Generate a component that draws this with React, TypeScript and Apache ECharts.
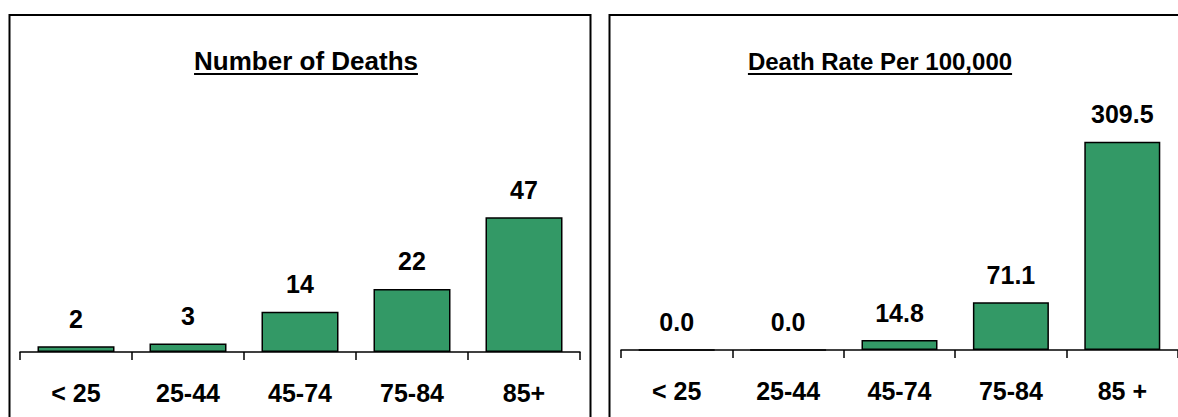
import React, { useEffect, useRef } from "react";
import * as echarts from "echarts";

const categoriesDeaths = ["< 25", "25-44", "45-74", "75-84", "85+"];
const categoriesRate = ["< 25", "25-44", "45-74", "75-84", "85 +"];
const deathCounts = [2, 3, 14, 22, 47];
const deathRates = [0.0, 0.0, 14.8, 71.1, 309.5];
const titleDeaths = "Number of Deaths";
const titleRate = "Death Rate Per 100,000";

const FONT = "'Liberation Sans', Arial, sans-serif";
const GREEN = "#339966";

function measure(text: string, size: number): number {
  const c = document.createElement("canvas").getContext("2d");
  if (!c) return text.length * size * 0.55;
  c.font = `bold ${size}px ${FONT}`;
  return c.measureText(text).width;
}

export default function App() {
  const ref = useRef<HTMLDivElement>(null);
  useEffect(() => {
    if (!ref.current) return;
    const chart = echarts.init(ref.current, null, { renderer: "svg" });
    const t1Size = 26;
    const t2Size = 24;
    const t1x = 306, t2x = 880, ty = 61;
    const w1 = measure(titleDeaths, t1Size);
    const w2 = measure(titleRate, t2Size);
    const uy = ty + 13;

    const axisCommon = {
      type: "category" as const,
      boundaryGap: true,
      axisLine: { lineStyle: { color: "#000", width: 1.5 } },
      axisTick: { show: true, length: 8, lineStyle: { color: "#000", width: 1.5 } },
      axisLabel: {
        color: "#000",
        fontSize: 25,
        fontWeight: "bold" as const,
        fontFamily: FONT,
        margin: 28,
        interval: 0,
      },
    };
    const labelCommon = {
      show: true,
      position: "top" as const,
      distance: 15,
      color: "#000",
      fontSize: 25,
      fontWeight: "bold" as const,
      fontFamily: FONT,
    };

    chart.setOption({
      animation: false,
      backgroundColor: "#fff",
      grid: [
        { left: 20, width: 560, top: 180, height: 172 },
        { left: 621, width: 560, top: 81, height: 269 },
      ],
      xAxis: [
        { ...axisCommon, gridIndex: 0, data: categoriesDeaths },
        { ...axisCommon, gridIndex: 1, data: categoriesRate },
      ],
      yAxis: [
        { type: "value", gridIndex: 0, min: 0, max: 60, show: false, splitLine: { show: false } },
        { type: "value", gridIndex: 1, min: 0, max: 400, show: false, splitLine: { show: false } },
      ],
      series: [
        {
          type: "bar",
          xAxisIndex: 0,
          yAxisIndex: 0,
          data: deathCounts,
          barWidth: 77,
          itemStyle: { color: GREEN, borderColor: "#000", borderWidth: 1.5 },
          label: { ...labelCommon, formatter: (p: any) => String(p.value) },
        },
        {
          type: "bar",
          xAxisIndex: 1,
          yAxisIndex: 1,
          data: deathRates,
          barWidth: 76,
          itemStyle: { color: GREEN, borderColor: "#000", borderWidth: 1.5 },
          label: { ...labelCommon, formatter: (p: any) => Number(p.value).toFixed(1) },
        },
      ],
      graphic: [
        {
          type: "rect",
          shape: { x: 9.5, y: 15, width: 581, height: 420 },
          style: { fill: "none", stroke: "#000", lineWidth: 2 },
          silent: true,
        },
        {
          type: "rect",
          shape: { x: 609.5, y: 15, width: 600, height: 420 },
          style: { fill: "none", stroke: "#000", lineWidth: 2 },
          silent: true,
        },
        {
          type: "text",
          x: t1x,
          y: ty,
          style: {
            text: titleDeaths,
            fill: "#000",
            font: `bold ${t1Size}px ${FONT}`,
            textAlign: "center",
            textVerticalAlign: "middle",
          },
        },
        {
          type: "line",
          shape: { x1: t1x - w1 / 2, y1: uy, x2: t1x + w1 / 2, y2: uy },
          style: { stroke: "#000", lineWidth: 2 },
        },
        {
          type: "text",
          x: t2x,
          y: ty,
          style: {
            text: titleRate,
            fill: "#000",
            font: `bold ${t2Size}px ${FONT}`,
            textAlign: "center",
            textVerticalAlign: "middle",
          },
        },
        {
          type: "line",
          shape: { x1: t2x - w2 / 2, y1: uy, x2: t2x + w2 / 2, y2: uy },
          style: { stroke: "#000", lineWidth: 2 },
        },
      ],
    });
    return () => chart.dispose();
  }, []);
  return (
    <div
      ref={ref}
      style={{ position: "fixed", left: 0, top: 0, width: 1178, height: 417 }}
    />
  );
}
